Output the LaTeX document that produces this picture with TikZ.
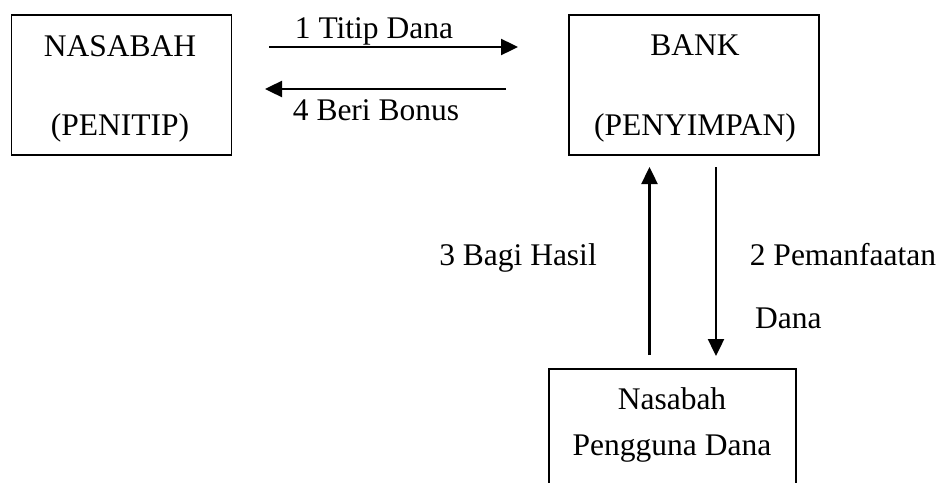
\documentclass[tikz,border=0pt]{standalone}
\usepackage{fontspec}
\setmainfont{Liberation Serif}
\usetikzlibrary{arrows.meta}
\begin{document}
\begin{tikzpicture}[x=1pt,y=-1pt,
  box/.style={draw=black, line width=1.4pt, minimum width=#1, inner sep=0pt},
  txt/.style={anchor=base, inner sep=0pt, font=\fontsize{31.5}{37}\selectfont},
  flow/.style={line width=2.4pt, -{Triangle[length=17pt,width=16pt]}}]
\useasboundingbox (0,0) rectangle (945,482);
\clip (0,0) rectangle (945,482);
% boxes
\node[box=220pt, minimum height=140pt] (nas) at (121.5,85) {};
\node[box=250pt, minimum height=140pt] (bank) at (694,85) {};
\node[box=247pt, minimum height=140pt] (peng) at (672.5,439) {};
% box texts
\node[txt] (t1) at (120,56) {NASABAH};
\node[txt] (t2) at (120,135) {(PENITIP)};
\node[txt] (t3) at (695,55) {BANK};
\node[txt] (t4) at (695,135) {(PENYIMPAN)};
\node[txt] (t5) at (672,409) {Nasabah};
\node[txt] (t6) at (672,455) {Pengguna Dana};
% arrow ends
\coordinate (a1s) at (269,47);
\coordinate (a1e) at (518,47);
\coordinate (a4s) at (506,89);
\coordinate (a4e) at (265,89);
\coordinate (a3s) at (649.5,355);
\coordinate (a3e) at (649.5,167);
\coordinate (a2s) at (716,167);
\coordinate (a2e) at (716,356);
\draw[flow] (a1s) -- (a1e);
\draw[flow] (a4s) -- (a4e);
\draw[flow] (a3s) -- (a3e);
\draw[flow] (a2s) -- (a2e);
% arrow labels
\node[txt] (l1) at (374,38) {1 Titip Dana};
\node[txt] (l4) at (376,120) {4 Beri Bonus};
\node[txt] (l3) at (518,265) {3 Bagi Hasil};
\node[txt] (l2) at (843,265) {2 Pemanfaatan};
\node[txt, anchor=base west] (l2b) at (755,328) {Dana};
\end{tikzpicture}
\end{document}
